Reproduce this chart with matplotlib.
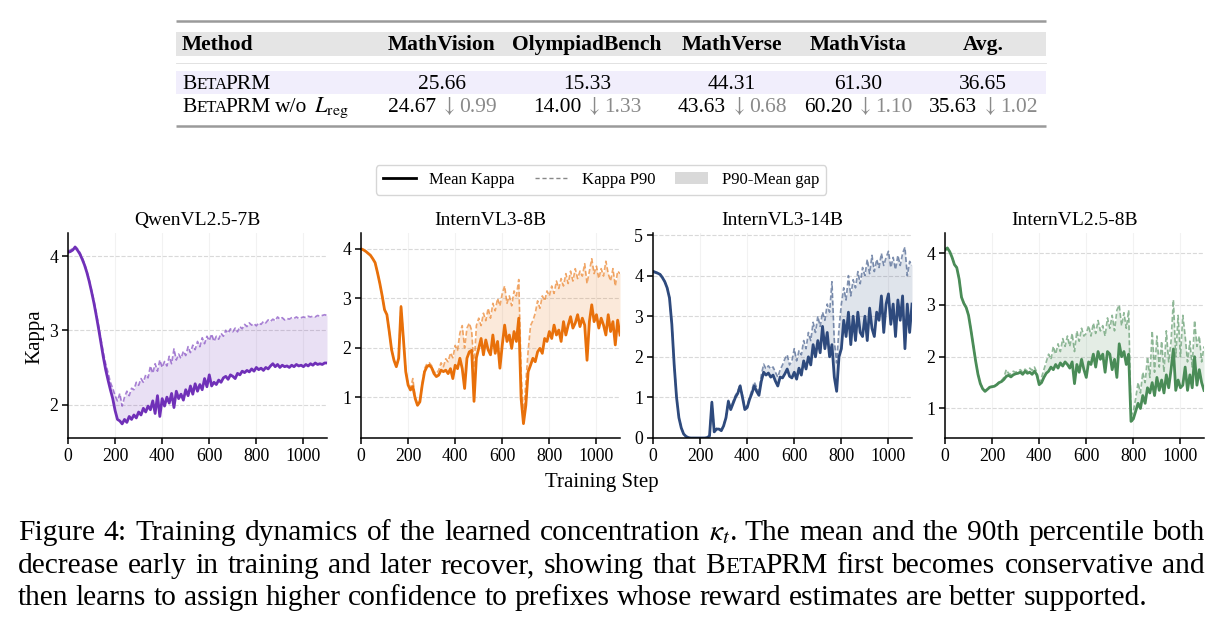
import matplotlib
matplotlib.use("Agg")
import matplotlib.pyplot as plt
from matplotlib.patches import Rectangle, Patch
from matplotlib.lines import Line2D

plt.rcParams['font.family'] = ['Liberation Serif', 'DejaVu Serif']
plt.rcParams['mathtext.fontset'] = 'stix'

# ---------------- data ----------------
steps = list(range(0, 1101, 10))

models = ["QwenVL2.5-7B", "InternVL3-8B", "InternVL3-14B", "InternVL2.5-8B"]

qwen_mean = [4.05, 4.06, 4.08, 4.12, 4.08, 4.03, 3.96, 3.88, 3.78, 3.66,
             3.52, 3.37, 3.20, 3.02, 2.83, 2.64, 2.47, 2.33, 2.20, 2.08,
             1.92, 1.80, 1.78, 1.74, 1.80, 1.76, 1.84, 1.80, 1.86, 1.82,
             1.90, 1.86, 1.95, 1.90, 1.98, 1.93, 2.05, 1.88, 2.12, 1.84,
             2.08, 1.98, 2.10, 2.02, 2.15, 1.96, 2.18, 2.08, 2.14, 2.06,
             2.20, 2.12, 2.25, 2.14, 2.28, 2.18, 2.27, 2.20, 2.35, 2.24,
             2.40, 2.25, 2.30, 2.27, 2.33, 2.30, 2.36, 2.38, 2.34, 2.40,
             2.38, 2.35, 2.42, 2.40, 2.45, 2.43, 2.46, 2.44, 2.48, 2.45,
             2.50, 2.47, 2.49, 2.46, 2.50, 2.48, 2.52, 2.55, 2.51, 2.54,
             2.50, 2.53, 2.51, 2.52, 2.50, 2.53, 2.51, 2.54, 2.52, 2.53,
             2.51, 2.54, 2.52, 2.55, 2.53, 2.56, 2.54, 2.55, 2.54, 2.56,
             2.56]
qwen_p90 = [4.07, 4.08, 4.10, 4.13, 4.10, 4.05, 3.98, 3.90, 3.80, 3.68,
            3.54, 3.40, 3.24, 3.06, 2.88, 2.70, 2.55, 2.43, 2.30, 2.22,
            2.12, 2.05, 2.15, 1.98, 2.10, 2.18, 2.12, 2.22, 2.20, 2.30,
            2.26, 2.35, 2.30, 2.40, 2.36, 2.52, 2.42, 2.55, 2.45, 2.60,
            2.50, 2.58, 2.52, 2.65, 2.55, 2.75, 2.60, 2.68, 2.62, 2.72,
            2.66, 2.78, 2.70, 2.80, 2.74, 2.85, 2.78, 2.90, 2.82, 2.92,
            2.86, 2.95, 2.85, 2.92, 2.88, 2.96, 2.92, 3.00, 2.96, 3.02,
            2.98, 3.03, 2.98, 3.05, 3.02, 3.08, 3.05, 3.10, 3.07, 3.09,
            3.06, 3.10, 3.08, 3.12, 3.10, 3.14, 3.12, 3.15, 3.13, 3.18,
            3.15, 3.17, 3.14, 3.16, 3.15, 3.17, 3.16, 3.18, 3.16, 3.17,
            3.18, 3.17, 3.19, 3.18, 3.19, 3.18, 3.20, 3.19, 3.20, 3.21,
            3.20]

iv3_8_mean = [4.00, 3.98, 3.95, 3.91, 3.87, 3.80, 3.72, 3.52, 3.30, 3.05,
              2.77, 2.67, 2.33, 1.96, 1.75, 1.62, 1.79, 2.83, 2.19, 1.52,
              1.25, 1.15, 1.22, 0.98, 0.84, 0.91, 1.25, 1.52, 1.62, 1.65,
              1.60, 1.48, 1.42, 1.45, 1.55, 1.52, 1.55, 1.48, 1.58, 1.38,
              1.65, 1.58, 1.79, 1.58, 1.18, 1.79, 1.92, 1.95, 0.92, 1.80,
              1.99, 2.19, 1.86, 2.16, 1.96, 1.86, 2.26, 1.89, 2.13, 1.59,
              2.06, 2.46, 2.13, 2.26, 1.99, 2.33, 2.13, 2.60, 0.98, 0.47,
              0.84, 1.52, 1.65, 1.79, 1.72, 1.92, 1.99, 1.89, 2.19, 2.13,
              2.33, 2.19, 2.46, 2.26, 2.36, 2.13, 2.53, 2.26, 2.46, 2.63,
              2.40, 2.50, 2.67, 2.43, 2.60, 2.46, 1.75, 2.53, 2.87, 2.53,
              2.67, 2.40, 2.60, 2.46, 2.26, 2.67, 2.33, 2.53, 2.06, 2.56,
              2.26]
iv3_8_p90 = [4.00, 3.98, 3.95, 3.91, 3.87, 3.80, 3.72, 3.52, 3.30, 3.05,
             2.77, 2.67, 2.33, 1.96, 1.75, 1.62, 1.80, 2.85, 2.20, 1.55,
             1.28, 1.18, 1.38, 1.00, 0.86, 0.93, 1.28, 1.58, 1.68, 1.70,
             1.64, 1.52, 1.48, 1.55, 1.70, 1.62, 1.78, 1.72, 1.90, 1.80,
             2.05, 1.95, 2.30, 2.45, 2.00, 2.40, 2.50, 2.35, 1.60, 2.45,
             2.60, 2.45, 2.70, 2.55, 2.80, 2.60, 2.90, 2.75, 3.00, 2.85,
             3.10, 3.25, 2.90, 3.05, 2.85, 3.15, 3.05, 3.38, 1.50, 0.60,
             1.30, 1.95, 2.45, 2.55, 2.70, 2.95, 2.80, 3.05, 2.95, 3.15,
             3.05, 3.25, 3.10, 3.35, 3.20, 3.40, 3.25, 3.50, 3.30, 3.55,
             3.35, 3.60, 3.40, 3.55, 3.45, 3.70, 3.30, 3.55, 3.80, 3.50,
             3.65, 3.40, 3.60, 3.45, 3.75, 3.50, 3.35, 3.60, 3.25, 3.55,
             3.50]

iv3_14_mean = [4.10, 4.08, 4.06, 4.03, 3.95, 3.85, 3.70, 3.45, 2.80, 1.80,
               1.00, 0.50, 0.25, 0.10, 0.04, 0.01, 0.00, 0.00, 0.00, 0.00,
               0.00, 0.00, 0.00, 0.01, 0.05, 0.88, 0.15, 0.22, 0.22, 0.18,
               0.30, 0.50, 0.90, 0.70, 0.85, 1.00, 1.10, 1.28, 1.00, 0.70,
               0.75, 0.95, 1.10, 1.28, 1.15, 1.05, 1.40, 1.62, 1.55, 1.60,
               1.50, 1.55, 1.40, 1.28, 1.50, 1.48, 1.58, 1.70, 1.52, 1.48,
               1.62, 1.45, 1.72, 1.55, 1.90, 1.70, 2.00, 1.80, 2.30, 2.00,
               2.40, 2.10, 2.75, 2.20, 2.60, 2.00, 2.30, 1.50, 1.15, 2.00,
               2.20, 2.90, 2.50, 3.10, 2.30, 3.00, 2.40, 3.10, 2.60, 2.50,
               3.00, 2.40, 3.20, 2.70, 2.50, 3.10, 2.90, 3.50, 2.60, 3.30,
               3.55, 2.80, 3.30, 2.50, 3.40, 2.90, 3.50, 2.20, 3.30, 2.60,
               3.30]
iv3_14_p90 = [4.12, 4.10, 4.07, 4.04, 3.96, 3.86, 3.71, 3.46, 2.82, 1.82,
              1.02, 0.52, 0.26, 0.10, 0.04, 0.01, 0.00, 0.00, 0.00, 0.00,
              0.00, 0.00, 0.00, 0.01, 0.06, 0.90, 0.16, 0.24, 0.24, 0.20,
              0.32, 0.52, 0.93, 0.74, 0.90, 1.05, 1.15, 1.33, 1.05, 0.74,
              0.80, 1.00, 1.18, 1.38, 1.25, 1.15, 1.55, 1.82, 1.70, 1.78,
              1.70, 1.75, 1.62, 1.50, 1.68, 1.80, 1.95, 2.05, 1.80, 1.90,
              2.20, 1.90, 2.15, 2.05, 2.40, 2.20, 2.60, 2.40, 2.85, 2.60,
              3.00, 2.75, 3.10, 2.90, 3.30, 3.10, 3.85, 2.40, 1.85, 2.70,
              3.30, 3.70, 3.40, 4.00, 3.50, 3.90, 3.70, 4.10, 3.80, 4.20,
              4.00, 4.40, 4.05, 4.50, 4.10, 4.40, 4.20, 4.55, 4.25, 4.45,
              4.60, 4.20, 4.45, 4.15, 4.50, 4.25, 4.55, 4.70, 4.00, 4.35,
              4.25]

iv25_8_mean = [4.06, 4.10, 4.03, 3.92, 3.78, 3.72, 3.50, 3.15, 3.03, 2.95,
               2.80, 2.52, 2.22, 1.92, 1.66, 1.48, 1.38, 1.33, 1.37, 1.41,
               1.42, 1.43, 1.46, 1.50, 1.52, 1.56, 1.62, 1.64, 1.61, 1.65,
               1.67, 1.68, 1.70, 1.66, 1.72, 1.68, 1.70, 1.66, 1.72, 1.65,
               1.46, 1.50, 1.60, 1.68, 1.72, 1.80, 1.75, 1.85, 1.78, 1.88,
               1.82, 1.90, 1.85, 1.78, 1.90, 1.48, 1.85, 1.70, 1.95, 1.75,
               1.60, 1.90, 1.85, 2.05, 1.80, 2.10, 1.95, 2.05, 1.70, 2.10,
               2.05, 1.75, 1.95, 1.60, 2.25, 2.00, 2.10, 1.85, 2.05, 0.75,
               0.80, 0.95, 1.10, 1.00, 1.25, 1.10, 1.40, 1.30, 1.50, 1.25,
               1.60, 1.35, 1.55, 1.30, 1.65, 1.40, 1.75, 2.15, 1.35, 1.55,
               1.40, 1.45, 1.80, 1.35, 1.65, 1.40, 2.00, 1.45, 1.75, 1.50,
               1.35]
iv25_8_p90 = [4.07, 4.11, 4.04, 3.93, 3.79, 3.73, 3.51, 3.16, 3.04, 2.96,
              2.81, 2.53, 2.23, 1.93, 1.67, 1.49, 1.39, 1.34, 1.38, 1.42,
              1.43, 1.44, 1.47, 1.52, 1.54, 1.60, 1.75, 1.68, 1.66, 1.72,
              1.70, 1.72, 1.75, 1.70, 1.76, 1.72, 1.78, 1.74, 1.80, 1.70,
              1.50, 1.60, 1.75, 1.90, 2.05, 1.95, 2.20, 2.05, 2.25, 2.10,
              2.35, 2.20, 2.40, 2.20, 2.45, 2.10, 2.50, 2.30, 2.55, 2.40,
              2.45, 2.60, 2.40, 2.65, 2.45, 2.70, 2.50, 2.60, 2.40, 2.75,
              2.55, 2.80, 2.50, 2.90, 3.00, 2.60, 2.85, 2.55, 2.90, 0.85,
              0.95, 1.20, 1.50, 1.30, 1.70, 1.50, 2.00, 1.60, 2.50, 1.70,
              2.40, 1.80, 2.30, 1.70, 2.50, 1.90, 2.30, 3.10, 2.00, 2.80,
              2.00, 2.80, 2.40, 1.90, 2.30, 1.80, 2.70, 2.20, 2.40, 1.90,
              2.20]

means = [qwen_mean, iv3_8_mean, iv3_14_mean, iv25_8_mean]
p90s = [qwen_p90, iv3_8_p90, iv3_14_p90, iv25_8_p90]

table_header = ["Method", "MathVision", "OlympiadBench", "MathVerse", "MathVista", "Avg."]
beta_scores = ["25.66", "15.33", "44.31", "61.30", "36.65"]
noreg_scores = ["24.67", "14.00", "43.63", "60.20", "35.63"]
noreg_drops = ["0.99", "1.33", "0.68", "1.10", "1.02"]

caption_lines = [
    "Figure 4:  Training dynamics of the learned concentration $\\kappa_t$. The mean and the 90th percentile both",
    "decrease early in training and later recover, showing that BETAPRM first becomes conservative and",
    "then learns to assign higher confidence to prefixes whose reward estimates are better supported.",
]

# ---------------- figure ----------------
W, H = 1221, 629
fig = plt.figure(figsize=(W / 100, H / 100), dpi=100)
ov = fig.add_axes([0, 0, 1, 1])
ov.set_xlim(0, W)
ov.set_ylim(H, 0)
ov.axis('off')
renderer = fig.canvas.get_renderer()


def width_of(s, fs, **kw):
    t = ov.text(0, 0, s, fontsize=fs, **kw)
    w = t.get_window_extent(renderer).width
    t.remove()
    return w


def run(x, y, pieces, ha='left'):
    """pieces: list of (text, fontsize, kwargs) or (None, gap_px, None)"""
    ws = []
    for s, fs, kw in pieces:
        ws.append(fs if s is None else width_of(s, fs, **kw))
    total = sum(ws)
    x0 = x - total / 2 if ha == 'center' else (x - total if ha == 'right' else x)
    for (s, fs, kw), w in zip(pieces, ws):
        if s is not None:
            ov.text(x0, y, s, fontsize=fs, va='baseline', ha='left', **kw)
        x0 += w
    return total


def smallcaps_beta(fs, **kw):
    return [("B", fs, kw), (None, 0.5, None), ("ETA", fs * 0.78, kw),
            (None, -0.18 * fs, None), ("PRM", fs, kw)]


# ---------------- table ----------------
TL, TR = 176, 1046
ov.plot([TL, TR], [21, 21], color='#9a9a9a', lw=1.8, solid_capstyle='butt')
ov.add_patch(Rectangle((TL, 32), TR - TL, 24, facecolor='#e5e5e5', edgecolor='none'))
ov.plot([TL, TR], [63, 63], color='#dddddd', lw=0.6)
ov.add_patch(Rectangle((TL, 71), TR - TL, 23, facecolor='#f1eefc', edgecolor='none'))
ov.plot([TL, TR], [126, 126], color='#9a9a9a', lw=1.8, solid_capstyle='butt')

col_centers = [442, 587, 732, 858, 983]
tfs = 15.5
ov.text(182, 50, table_header[0], fontsize=tfs, fontweight='bold', va='baseline', ha='left')
for cx, h in zip(col_centers, table_header[1:]):
    ov.text(cx, 50, h, fontsize=tfs, fontweight='bold', va='baseline', ha='center')

run(182, 89, smallcaps_beta(tfs))
for cx, v in zip(col_centers, beta_scores):
    ov.text(cx, 89, v, fontsize=tfs, va='baseline', ha='center')

run(182, 112, smallcaps_beta(tfs) + [(None, 5, None), ("w/o", tfs, {}), (None, 6, None),
                                        ("$L_{\\mathrm{reg}}$", tfs * 1.05, {})])
for cx, v, d in zip(col_centers, noreg_scores, noreg_drops):
    run(cx, 112, [(v, tfs, {}), (None, 4, None), ("$\\downarrow$", tfs, {'color': '#8a8a8a'}),
                  (None, 4, None), (d, tfs, {'color': '#8a8a8a'})], ha='center')

# ---------------- panels ----------------
colors = ['#7030b8', '#e8700a', '#2e4a7d', '#4a8c57']
ylims = [(1.55, 4.31), (0.18, 4.32), (0.0, 5.05), (0.43, 4.39)]
yticks = [[2, 3, 4], [1, 2, 3, 4], [0, 1, 2, 3, 4, 5], [1, 2, 3, 4]]
lefts = [68, 361, 653, 945]
ax_top, ax_bot, ax_w = 233, 438, 259

for i in range(4):
    ax = fig.add_axes([lefts[i] / W, (H - ax_bot) / H, ax_w / W, (ax_bot - ax_top) / H])
    c = colors[i]
    ax.fill_between(steps, means[i], p90s[i], color=c, alpha=0.15, lw=0)
    ax.plot(steps, p90s[i], color=c, alpha=0.6, lw=1.2, ls=(0, (3, 1.5)))
    ax.plot(steps, means[i], color=c, lw=2.0)
    ax.set_xlim(0, 1100)
    ax.set_ylim(*ylims[i])
    ax.set_xticks([0, 200, 400, 600, 800, 1000])
    ax.set_yticks(yticks[i])
    ax.grid(axis='y', ls='--', color='#d9d9d9', lw=0.8)
    ax.grid(axis='x', ls='-', color='#f2f2f2', lw=0.8)
    ax.set_axisbelow(True)
    for s in ['top', 'right']:
        ax.spines[s].set_visible(False)
    for s in ['left', 'bottom']:
        ax.spines[s].set_linewidth(1.1)
    ax.tick_params(labelsize=12.8, length=4, width=1.1, pad=3)
    ax.set_title(models[i], fontsize=14, pad=6)
    ax.patch.set_alpha(0)

ov.text(35, 337, "Kappa", fontsize=15, rotation=90, ha='center', va='center')
ov.text(602, 482, "Training Step", fontsize=15, ha='center', va='center')

handles = [Line2D([], [], color='black', lw=2),
           Line2D([], [], color='#888888', lw=1, ls=(0, (3, 2))),
           Patch(facecolor='#d9d9d9', edgecolor='none')]
fig.legend(handles, ["Mean Kappa", "Kappa P90", "P90-Mean gap"], loc='center',
           bbox_to_anchor=(601 / W, 1 - 180 / H), ncol=3, fontsize=12, frameon=True,
           fancybox=True, edgecolor='#cccccc', handlelength=2.0, columnspacing=1.2,
           handletextpad=0.8, borderpad=0.4)

# ---------------- caption ----------------
def words_of(line, fs):
    out = []
    for w in line.split():
        if w == "BETAPRM":
            out.append(smallcaps_beta(fs))
        else:
            out.append([(w, fs, {})])
    return out


def word_width(pieces):
    return sum(fs if s is None else width_of(s, fs, **kw) for s, fs, kw in pieces)


cap_left = 18
fs0 = 20.0
wl = words_of(caption_lines[2], fs0)
nat = sum(word_width(p) for p in wl) + 0.25 * fs0 * 100 / 72 * (len(wl) - 1)
cfs = fs0 * (1148 - cap_left) / nat

baselines = [540, 573, 605]
for li, line in enumerate(caption_lines):
    wl = words_of(line, cfs)
    ws = [word_width(p) for p in wl]
    if li < 2:
        gap = ((1205 - cap_left) - sum(ws)) / (len(wl) - 1)
    else:
        gap = 0.25 * cfs * 100 / 72
    x = cap_left
    for p, w in zip(wl, ws):
        run(x, baselines[li], p)
        x += w + gap

fig.savefig("out.png", dpi=100)
